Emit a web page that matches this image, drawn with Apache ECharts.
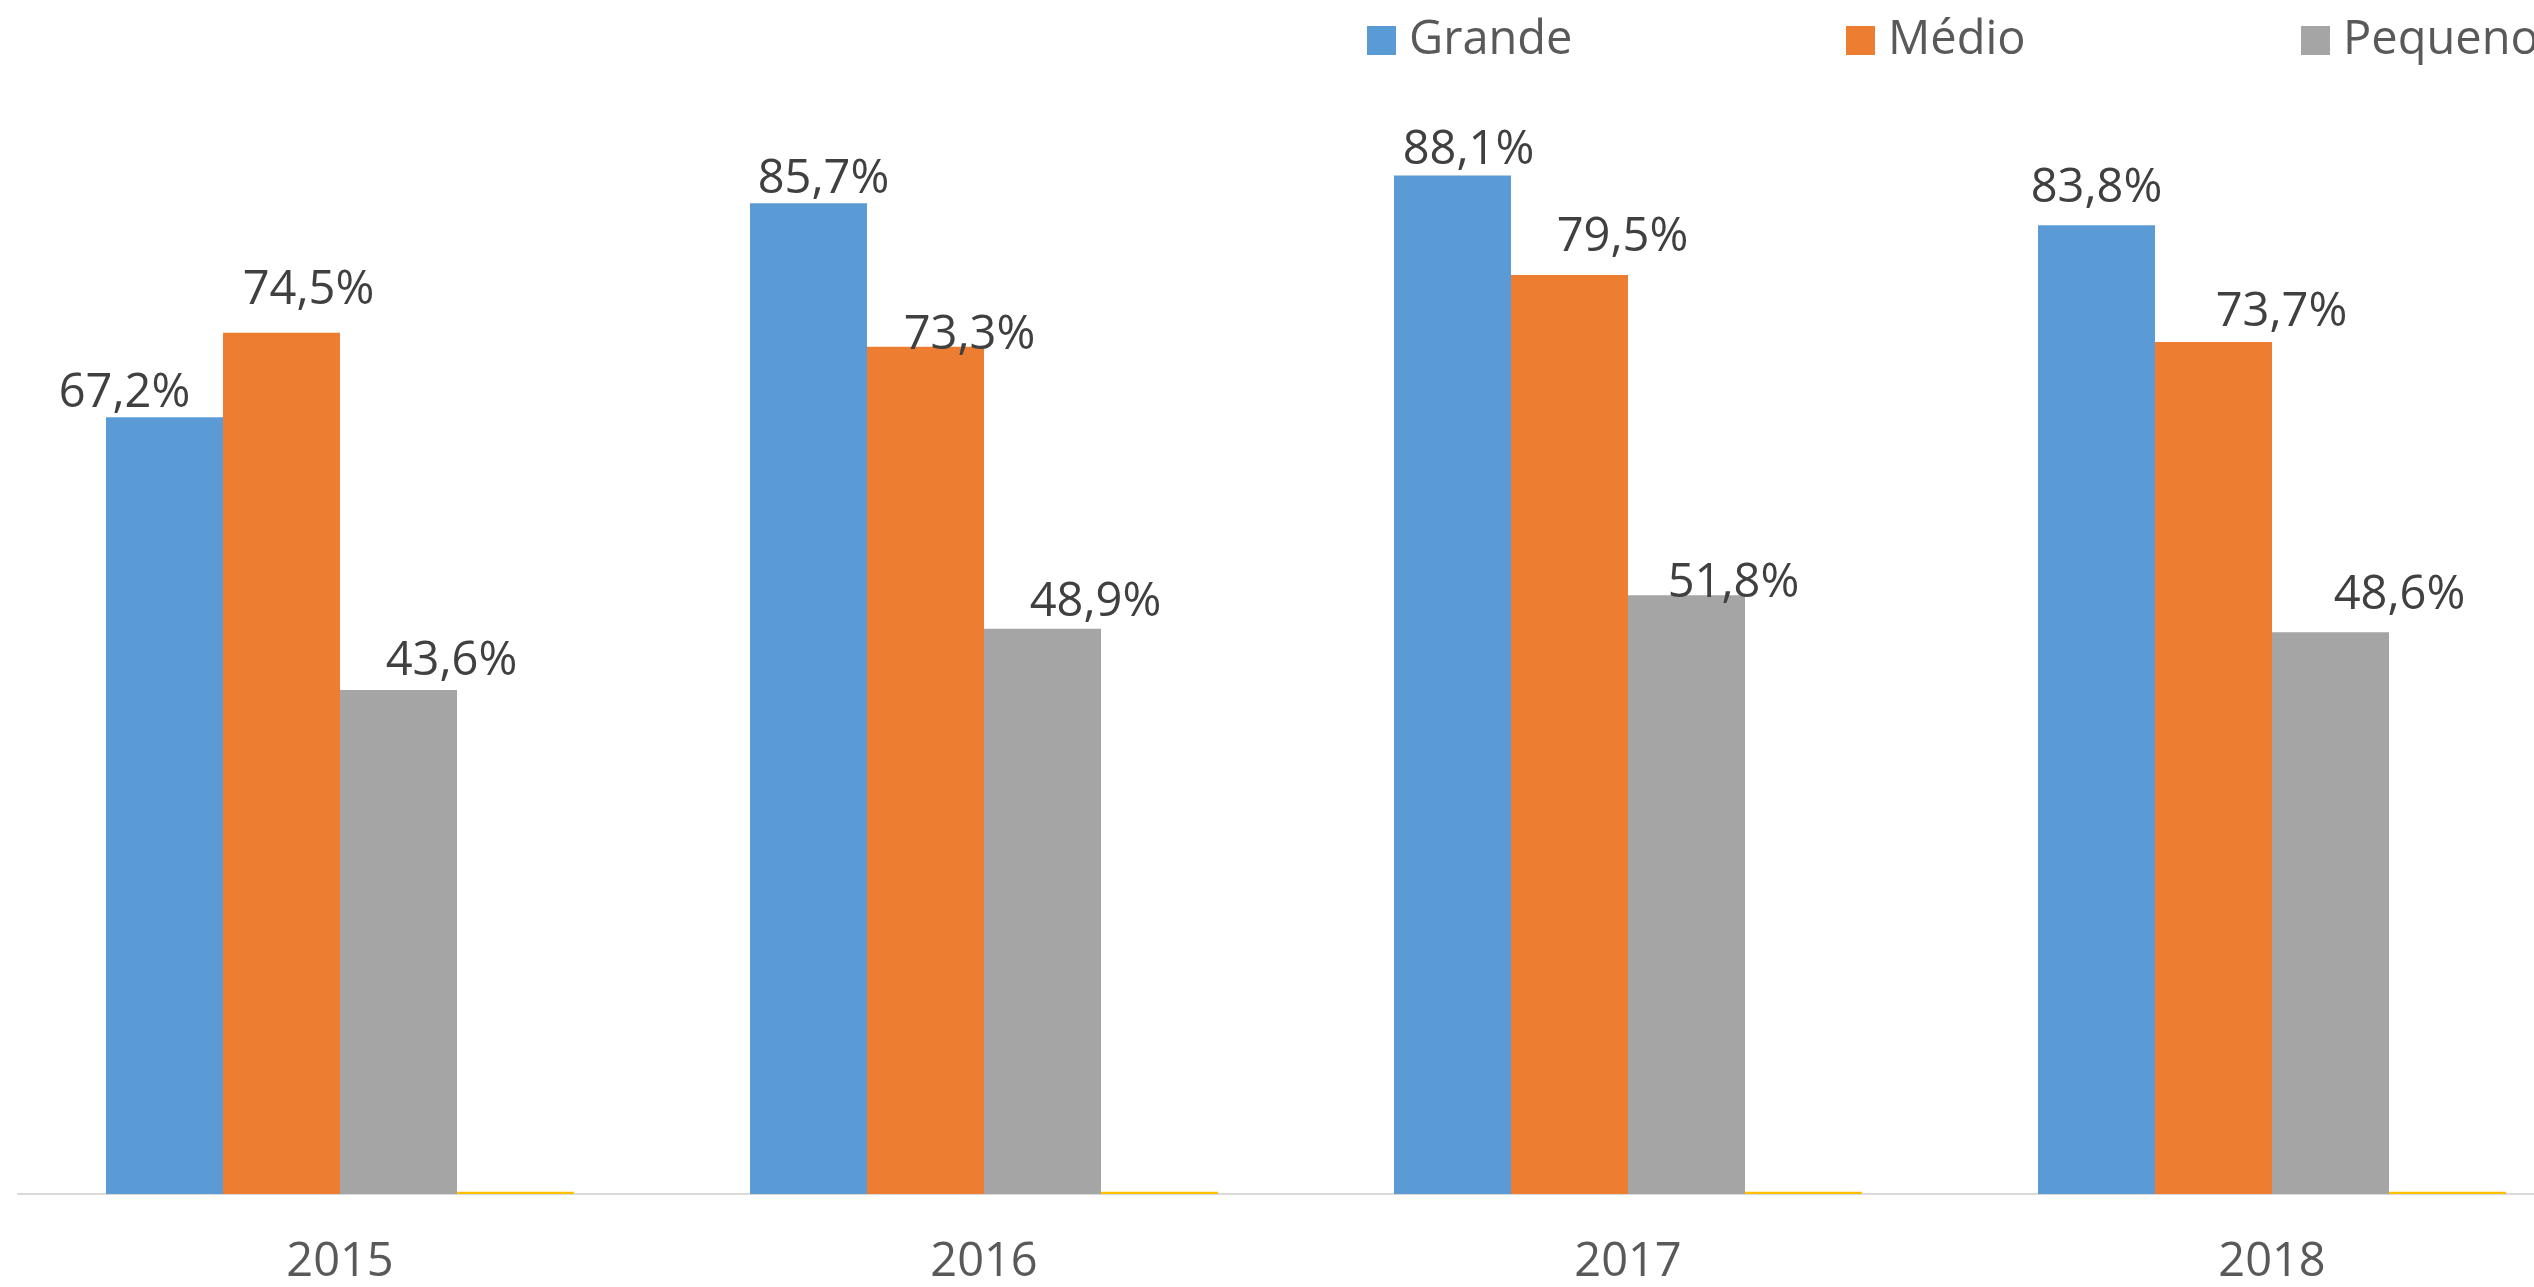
<!DOCTYPE html>
<html>
<head>
<meta charset="utf-8">
<script src="https://cdn.jsdelivr.net/npm/echarts@6/dist/echarts.min.js"></script>
<style>
    html, body { margin: 0; padding: 0; background: #fff; }
    #chart { width: 2534px; height: 1287px; }
</style>
</head>
<body>
<div id="chart"></div>
<script>
    const years = ['2015', '2016', '2017', '2018']
    const grande = [67.2, 85.7, 88.1, 83.8]
    const medio = [74.5, 73.3, 79.5, 73.7]
    const pequeno = [43.6, 48.9, 51.8, 48.6]
    const outro = [0.2, 0.2, 0.2, 0.2]   // fina barra amarela na base

    // deslocamento manual dos rótulos, como no gráfico original
    const shiftGrande = [[-40, 0], [15, 0], [16, -1], [0, -13]]
    const shiftMedio = [[27, -19], [44, 12], [53, -14], [68, -6]]
    const shiftPequeno = [[53, -5], [53, -3], [47, 12], [69, -13]]

    const font = 'Open Sans'
    const pct = v => v.toFixed(1).replace('.', ',') + '%'

    function withLabels (values, shifts) {
        return values.map((v, i) => ({
            value: v,
            label: { offset: shifts[i] }
        }))
    }

    const chart = echarts.init(document.getElementById('chart'))

    const legendBase = {
        top: 12,
        itemWidth: 29,
        itemHeight: 29,
        icon: 'rect',
        textStyle: {
            fontFamily: font,
            fontSize: 47,
            color: '#595959',
            padding: [0, 0, 0, 8]
        }
    }

    chart.setOption({
        animation: false,
        legend: [
            Object.assign({ data: ['Grande'], left: 1362 }, legendBase),
            Object.assign({ data: ['Médio'], left: 1841 }, legendBase),
            Object.assign({ data: ['Pequeno'], left: 2296 }, legendBase)
        ],
        grid: {
            left: 18,
            width: 2576,
            top: 38,
            bottom: 93,
            containLabel: false,
            outerBoundsMode: 'none'
        },
        xAxis: {
            type: 'category',
            data: years,
            axisTick: { show: false },
            axisLine: {
                lineStyle: { color: '#D9D9D9', width: 2 }
            },
            axisLabel: {
                margin: 45,
                fontFamily: font,
                fontSize: 47,
                color: '#595959'
            }
        },
        yAxis: {
            type: 'value',
            min: 0,
            max: 100,
            show: false
        },
        series: [
            {
                name: 'Grande',
                type: 'bar',
                barWidth: 117,
                barGap: '0%',
                itemStyle: { color: '#5B9BD5' },
                label: {
                    show: true, position: 'top', distance: 0,
                    fontFamily: font, fontSize: 47, color: '#404040',
                    formatter: p => pct(p.value)
                },
                data: withLabels(grande, shiftGrande)
            },
            {
                name: 'Médio',
                type: 'bar',
                barWidth: 117,
                barGap: '0%',
                itemStyle: { color: '#ED7D31' },
                label: {
                    show: true, position: 'top', distance: 0,
                    fontFamily: font, fontSize: 47, color: '#404040',
                    formatter: p => pct(p.value)
                },
                data: withLabels(medio, shiftMedio)
            },
            {
                name: 'Pequeno',
                type: 'bar',
                barWidth: 117,
                barGap: '0%',
                itemStyle: { color: '#A5A5A5' },
                label: {
                    show: true, position: 'top', distance: 0,
                    fontFamily: font, fontSize: 47, color: '#404040',
                    formatter: p => pct(p.value)
                },
                data: withLabels(pequeno, shiftPequeno)
            },
            {
                name: 'Outro',
                type: 'bar',
                barWidth: 117,
                barGap: '0%',
                itemStyle: { color: '#FFC000' },
                data: outro
            }
        ]
    })
</script>
</body>
</html>
